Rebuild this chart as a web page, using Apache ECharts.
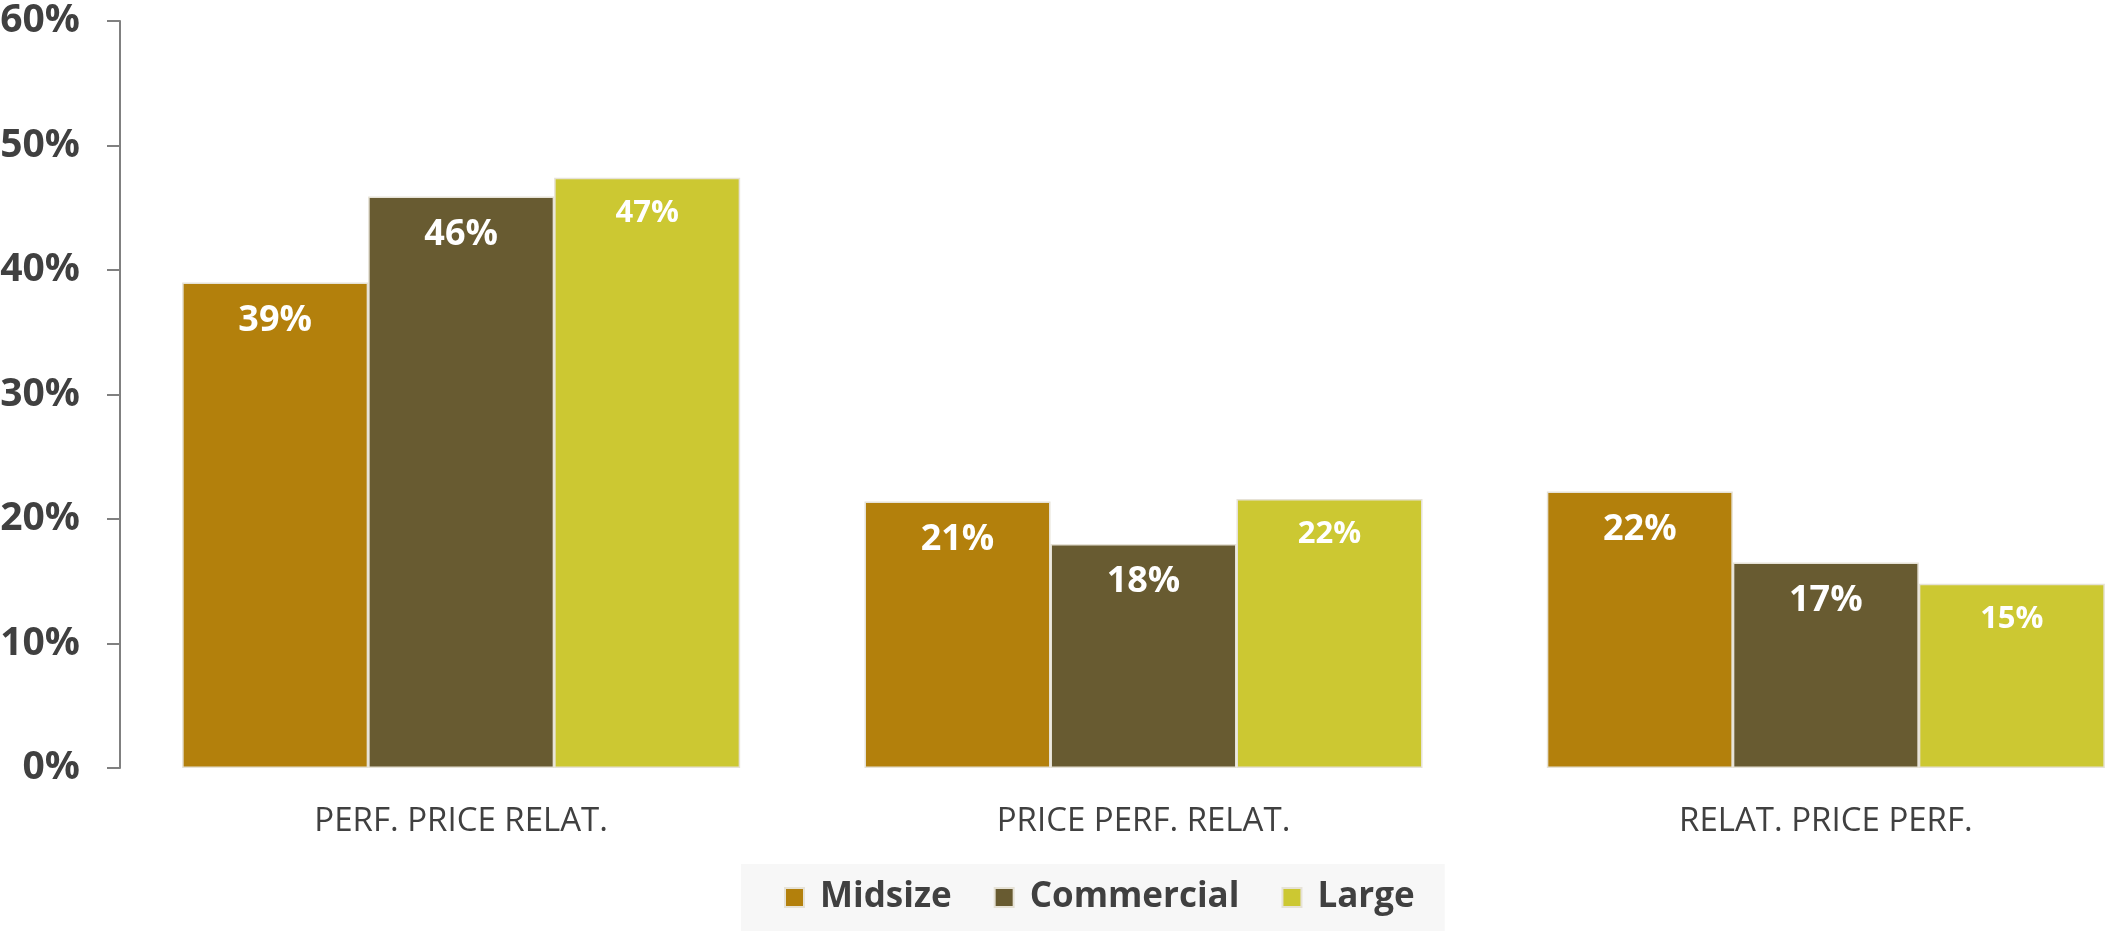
<!DOCTYPE html>
<html>
<head>
<meta charset="utf-8">
<script src="https://cdn.jsdelivr.net/npm/echarts@6/dist/echarts.min.js"></script>
<style>
  html, body { margin: 0; padding: 0; background: #ffffff; }
  #chart { width: 2106px; height: 933px; }
</style>
</head>
<body>
<div id="chart"></div>
<script>
// Survey shares by segment, percent
const categories = ['PERF. PRICE RELAT.', 'PRICE PERF. RELAT.', 'RELAT. PRICE PERF.'];
const seriesNames = ['Midsize', 'Commercial', 'Large'];
const midsize = [39.0, 21.4, 22.2];
const commercial = [45.9, 18.0, 16.5];
const large = [47.4, 21.6, 14.8];
const yTicks = { min: 0, max: 60, interval: 10 };

const colors = ['#B3800C', '#685B31', '#CCC832'];
const labelSizes = [36, 36, 31];
const values = [midsize, commercial, large];
const font = '"Open Sans", "Noto Sans", sans-serif';

const chart = echarts.init(document.getElementById('chart'), null, { renderer: 'canvas' });

const series = seriesNames.map((name, i) => ({
  name: name,
  type: 'bar',
  data: values[i],
  barWidth: 186,
  barGap: '0%',
  itemStyle: { color: colors[i], borderColor: '#e6e2d6', borderWidth: 1.5 },
  label: {
    show: true,
    position: 'insideTop',
    distance: 20,
    color: '#ffffff',
    fontFamily: font,
    fontWeight: 'bold',
    fontSize: labelSizes[i],
    formatter: p => Math.round(p.value) + '%'
  }
}));

chart.setOption({
  backgroundColor: '#ffffff',
  animation: false,
  color: colors,
  // the plot runs past the right edge of the canvas
  grid: { left: 120, top: 21, bottom: 165, right: -61, containLabel: false, outerBoundsMode: 'none' },
  legend: {
    data: seriesNames,
    left: 741,
    top: 864,
    padding: [16, 30, 16, 43],
    backgroundColor: '#f7f7f7',
    itemWidth: 19,
    itemHeight: 19,
    itemGap: 42,
    icon: 'rect',
    textStyle: {
      color: '#404040',
      fontFamily: font,
      fontWeight: 'bold',
      fontSize: 35,
      padding: [0, 0, 0, 11]
    }
  },
  xAxis: {
    type: 'category',
    data: categories,
    axisLine: { show: false },
    axisTick: { show: false },
    axisLabel: {
      color: '#404040',
      fontFamily: font,
      fontSize: 33,
      margin: 37
    }
  },
  yAxis: {
    type: 'value',
    min: yTicks.min,
    max: yTicks.max,
    interval: yTicks.interval,
    splitLine: { show: false },
    axisLine: { show: true, lineStyle: { color: '#808080', width: 2 } },
    axisTick: { show: true, length: 13, lineStyle: { color: '#808080', width: 2 } },
    axisLabel: {
      color: '#404040',
      fontFamily: font,
      fontWeight: 'bold',
      fontSize: 39,
      margin: 40,
      formatter: '{value}%'
    }
  },
  series: series
});
</script>
</body>
</html>
